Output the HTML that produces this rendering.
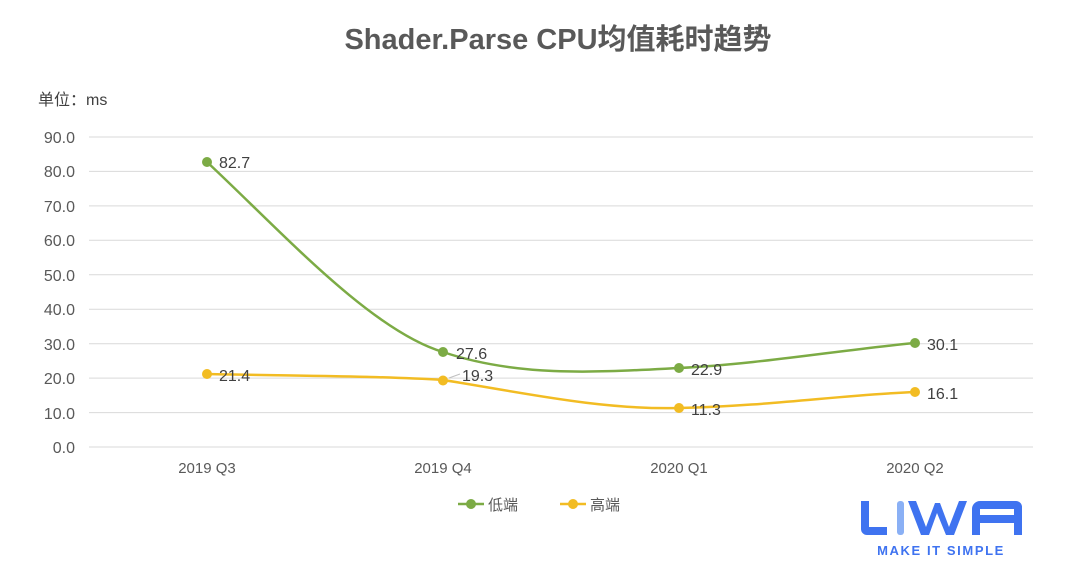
<!DOCTYPE html>
<html><head><meta charset="utf-8"><style>
body{margin:0;background:#fff;}
svg text{font-family:"Liberation Sans","Noto Sans CJK SC",sans-serif;}
</style></head><body>
<svg width="1080" height="575" xmlns="http://www.w3.org/2000/svg">
<rect width="1080" height="575" fill="#fff"/>
<text x="558" y="49" text-anchor="middle" font-size="29" font-weight="bold" fill="#595959">Shader.Parse CPU均值耗时趋势</text>
<text x="38" y="105" font-size="16" fill="#404040">单位：ms</text>
<g stroke="#d9d9d9" stroke-width="1">
<line x1="89" x2="1033" y1="137" y2="137"/><line x1="89" x2="1033" y1="171.4" y2="171.4"/>
<line x1="89" x2="1033" y1="205.9" y2="205.9"/><line x1="89" x2="1033" y1="240.3" y2="240.3"/>
<line x1="89" x2="1033" y1="274.8" y2="274.8"/><line x1="89" x2="1033" y1="309.2" y2="309.2"/>
<line x1="89" x2="1033" y1="343.7" y2="343.7"/><line x1="89" x2="1033" y1="378.1" y2="378.1"/>
<line x1="89" x2="1033" y1="412.6" y2="412.6"/><line x1="89" x2="1033" y1="447" y2="447"/>
</g>
<g font-size="16" fill="#595959" text-anchor="end">
<text x="75" y="143">90.0</text><text x="75" y="177">80.0</text><text x="75" y="212">70.0</text>
<text x="75" y="246">60.0</text><text x="75" y="281">50.0</text><text x="75" y="315">40.0</text>
<text x="75" y="350">30.0</text><text x="75" y="384">20.0</text><text x="75" y="419">10.0</text>
<text x="75" y="453">0.0</text>
</g>
<g font-size="15" fill="#595959" text-anchor="middle">
<text x="207" y="473">2019 Q3</text><text x="443" y="473">2019 Q4</text>
<text x="679" y="473">2020 Q1</text><text x="915" y="473">2020 Q2</text>
</g>
<path d="M207,162 C280,230 370,330 443,352 C520,378 600,372 679,368 C760,364 840,350 915,343" fill="none" stroke="#7cab45" stroke-width="2.5"/>
<path d="M207,374 C300,376 380,376 443,380 C520,392 600,410 679,408 C770,406 840,395 915,392" fill="none" stroke="#f2bc23" stroke-width="2.5"/>
<g fill="#7cab45"><circle cx="207" cy="162" r="5"/><circle cx="443" cy="352" r="5"/><circle cx="679" cy="368" r="5"/><circle cx="915" cy="343" r="5"/></g>
<g fill="#f2bc23"><circle cx="207" cy="374" r="5"/><circle cx="443" cy="380.5" r="5"/><circle cx="679" cy="408" r="5"/><circle cx="915" cy="392" r="5"/></g>
<g font-size="16" fill="#404040">
<text x="219" y="168">82.7</text><text x="456" y="359">27.6</text><text x="691" y="375">22.9</text><text x="927" y="350">30.1</text>
<text x="219" y="381">21.4</text><text x="462" y="381">19.3</text><text x="691" y="415">11.3</text><text x="927" y="399">16.1</text>
</g>
<line x1="449" y1="378" x2="460" y2="374" stroke="#bfbfbf"/>
<line x1="458" y1="504" x2="484" y2="504" stroke="#7cab45" stroke-width="2.5"/><circle cx="471" cy="504" r="5" fill="#7cab45"/>
<text x="488" y="510" font-size="15" fill="#595959">低端</text>
<line x1="560" y1="504" x2="586" y2="504" stroke="#f2bc23" stroke-width="2.5"/><circle cx="573" cy="504" r="5" fill="#f2bc23"/>
<text x="590" y="510" font-size="15" fill="#595959">高端</text>
<g fill="#3f73f0">
<path d="M861,501 h8 v26 h18 v8 h-20 a6,6 0 0 1 -6,-6 z"/>
<rect x="897" y="501" width="7" height="34" rx="3" fill="#8ab0f5"/>
<path d="M908,501 h8 l10,26 l9,-24 h5 l9,24 l10,-26 h8 l-13,34 h-8 l-9,-22 l-8,22 h-8 z"/>
<path d="M972,535 v-26 a8,8 0 0 1 8,-8 h36 a6,6 0 0 1 6,6 v28 h-8 v-12 h-34 v12 z M980,515 h34 v-6 h-34 z"/>
</g>
<text x="941" y="555" font-size="13" font-weight="bold" fill="#3f73f0" text-anchor="middle" letter-spacing="1.6">MAKE IT SIMPLE</text>
</svg>
</body></html>
